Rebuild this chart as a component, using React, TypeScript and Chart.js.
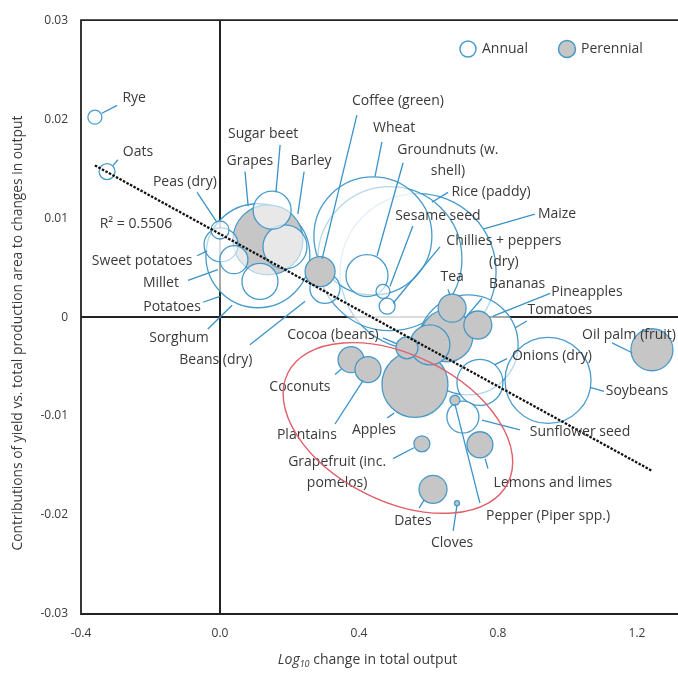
import React, { useEffect, useRef } from 'react';
import { Chart, registerables } from 'chart.js';

Chart.register(...registerables);

// ---------- data ----------
const crops = [
  'Rye', 'Oats', 'Peas (dry)', 'Sweet potatoes', 'Millet', 'Potatoes', 'Sorghum', 'Beans (dry)',
  'Sugar beet', 'Grapes', 'Barley', 'Coffee (green)', 'Wheat', 'Groundnuts (w. shell)', 'Sesame seed',
  'Chillies + peppers (dry)', 'Rice (paddy)', 'Maize', 'Tea', 'Bananas', 'Other perennial', 'Pineapples',
  'Tomatoes', 'Onions (dry)', 'Soybeans', 'Oil palm (fruit)', 'Sunflower seed', 'Pepper (Piper spp.)',
  'Lemons and limes', 'Cloves', 'Dates', 'Grapefruit (inc. pomelos)', 'Apples', 'Coconuts', 'Plantains',
  'Cocoa (beans)',
];

// Log10 change in total output
const logChange = [
  -0.360, -0.325, 0.000, 0.003, 0.040, 0.109, 0.115, 0.302, 0.150, 0.138, 0.187, 0.288, 0.440, 0.423,
  0.469, 0.481, 0.489, 0.570, 0.668, 0.653, 0.604, 0.742, 0.714, 0.748, 0.944, 1.243, 0.699, 0.676,
  0.748, 0.682, 0.613, 0.581, 0.561, 0.377, 0.426, 0.538,
];

// Contribution of yield vs. total production area
const contribution = [
  0.0202, 0.0147, 0.0088, 0.0073, 0.0058, 0.0062, 0.0036, 0.0029, 0.0108, 0.0078, 0.0071, 0.0046,
  0.0082, 0.0042, 0.0026, 0.0011, 0.0059, 0.0046, 0.0009, -0.0019, -0.0028, -0.0008, -0.0028, -0.0066,
  -0.0064, -0.0033, -0.0101, -0.0084, -0.0129, -0.0188, -0.0174, -0.0128, -0.0068, -0.0043, -0.0053,
  -0.0031,
];

// bubble size (production)
const bubbleSize = [
  7, 8, 9, 17, 14, 52, 18, 15, 19, 35, 22, 15, 59, 21, 7, 8, 72, 78, 14, 26, 20, 14, 50, 23, 43, 21,
  16, 5, 13, 2.5, 14, 8, 33, 13, 13, 11,
];

const perennial = [
  false, false, false, false, false, false, false, false, false, true, false, true, false, false, false,
  false, false, false, true, true, true, true, false, false, false, true, false, true, true, true, true,
  true, true, true, true, true,
];

// label texts (lines)
const labelLines: string[][] = [
  ['Rye'], ['Oats'], ['Peas (dry)'], ['Sweet potatoes'], ['Millet'], ['Potatoes'], ['Sorghum'],
  ['Beans (dry)'], ['Sugar beet'], ['Grapes'], ['Barley'], ['Coffee (green)'], ['Wheat'],
  ['Groundnuts (w.', 'shell)'], ['Sesame seed'], ['Chillies + peppers', '(dry)'], ['Rice (paddy)'],
  ['Maize'], ['Tea'], ['Bananas'], [], ['Pineapples'], ['Tomatoes'], ['Onions (dry)'], ['Soybeans'],
  ['Oil palm (fruit)'], ['Sunflower seed'], ['Pepper (Piper spp.)'], ['Lemons and limes'], ['Cloves'],
  ['Dates'], ['Grapefruit (inc.', 'pomelos)'], ['Apples'], ['Coconuts'], ['Plantains'], ['Cocoa (beans)'],
];

// label anchor (centre of first line), in data units
const labelX = [
  -0.247, -0.236, -0.101, -0.224, -0.170, -0.138, -0.118, -0.012, 0.124, 0.086, 0.262, 0.512, 0.501,
  0.656, 0.627, 0.817, 0.780, 0.970, 0.668, 0.855, null, 1.056, 0.978, 0.955, 1.200, 1.177, 1.036,
  0.944, 0.958, 0.668, 0.555, 0.337, 0.443, 0.230, 0.250, 0.325,
];
const labelY = [
  0.0221, 0.0167, 0.0137, 0.0057, 0.0034, 0.0010, -0.0021, -0.0043, 0.0185, 0.0158, 0.0158, 0.0218,
  0.0191, 0.0169, 0.0102, 0.0077, 0.0126, 0.0104, 0.0040, 0.0033, null, 0.0025, 0.0007, -0.0039,
  -0.0075, -0.0018, -0.0116, -0.0201, -0.0168, -0.0228, -0.0206, -0.0146, -0.0114, -0.0071, -0.0119,
  -0.0018,
];

// leader lines (start near label, end at bubble), in data units
const leadX1 = [
  -0.296, -0.294, -0.066, -0.066, -0.092, -0.049, -0.035, 0.086, 0.173, 0.072, 0.242, 0.394, 0.466,
  0.527, 0.555, 0.633, 0.656, 0.906, 0.656, 0.754, null, 0.950, 0.883, 0.826, 1.105, 1.128, 0.863,
  0.748, 0.771, 0.671, 0.573, 0.498, 0.481, 0.331, 0.331, 0.469,
];
const leadY1 = [
  0.0214, 0.0159, 0.0126, 0.0062, 0.0037, 0.0015, -0.0012, -0.0028, 0.0174, 0.0147, 0.0147, 0.0204,
  0.0177, 0.0156, 0.0092, 0.0071, 0.0126, 0.0104, 0.0028, 0.0019, null, 0.0024, -0.0004, -0.0042,
  -0.0075, -0.0026, -0.0114, -0.0188, -0.0153, -0.0216, -0.0193, -0.0143, -0.0102, -0.0058, -0.0108,
  -0.0021,
];
const leadX2 = [
  -0.340, -0.308, -0.009, -0.037, -0.006, 0.000, 0.035, 0.245, 0.161, 0.081, 0.224, 0.294, 0.446,
  0.452, 0.489, 0.498, 0.610, 0.757, 0.662, 0.705, null, 0.786, 0.849, 0.791, 1.065, 1.186, 0.754,
  0.676, 0.763, 0.682, 0.587, 0.558, 0.501, 0.351, 0.412, 0.509,
];
const leadY2 = [
  0.0206, 0.0153, 0.0096, 0.0067, 0.0048, 0.0021, 0.0012, 0.0016, 0.0126, 0.0112, 0.0104, 0.0059,
  0.0142, 0.0062, 0.0031, 0.0014, 0.0116, 0.0089, 0.0022, -0.0001, null, 0.0001, -0.0011, -0.0048,
  -0.0071, -0.0036, -0.0104, -0.0088, -0.0143, -0.0190, -0.0185, -0.0132, -0.0097, -0.0052, -0.0064,
  -0.0027,
];

// linear trend
const trendSlope = -0.01925;
const trendIntercept = 0.0084;
const rSquaredText = 'R² = 0.5506';
const rSquaredPos = [-0.242, 0.0094];

// highlighted group (red ellipse) centre in data units
const ellipseCentre = [0.512, -0.0112];

const xTicks = [-0.4, 0.0, 0.4, 0.8, 1.2];
const yTicks = [-0.03, -0.02, -0.01, 0, 0.01, 0.02, 0.03];
const xRange = [-0.4, 1.318];
const yRange = [-0.03, 0.03];

const legendItems = ['Annual', 'Perennial'];

// ---------- styles ----------
const FONT = '"Open Sans", "DejaVu Sans", sans-serif';
const TEXT = '#3a3a3a';
const BLUE = 'rgba(62,150,200,0.95)';
const LEADER = '#3a93c8';
const GREY = '#c6c6c6';
const ANNUAL_FILL = 'rgba(255,255,255,0.6)';

const overlay = {
  id: 'overlay',
  beforeDatasetsDraw(chart: any) {
    const { ctx, chartArea, scales } = chart;
    const { left, right, top, bottom } = chartArea;
    ctx.save();
    ctx.strokeStyle = '#222';
    ctx.lineWidth = 1.8;
    ctx.beginPath();
    ctx.moveTo(right + 2, top);
    ctx.lineTo(left, top);
    ctx.lineTo(left, bottom);
    ctx.lineTo(right + 2, bottom);
    ctx.stroke();
    const x0 = scales.x.getPixelForValue(0);
    const y0 = scales.y.getPixelForValue(0);
    ctx.lineWidth = 2;
    ctx.beginPath();
    ctx.moveTo(x0, top);
    ctx.lineTo(x0, bottom);
    ctx.moveTo(left, y0);
    ctx.lineTo(right + 2, y0);
    ctx.stroke();
    ctx.restore();
  },
  afterDatasetsDraw(chart: any) {
    const { ctx, scales } = chart;
    const px = (v: number) => scales.x.getPixelForValue(v);
    const py = (v: number) => scales.y.getPixelForValue(v);
    ctx.save();
    // leader lines
    ctx.strokeStyle = LEADER;
    ctx.lineWidth = 1.3;
    for (let i = 0; i < crops.length; i++) {
      if (leadX1[i] == null) continue;
      ctx.beginPath();
      ctx.moveTo(px(leadX1[i] as number), py(leadY1[i] as number));
      ctx.lineTo(px(leadX2[i] as number), py(leadY2[i] as number));
      ctx.stroke();
    }
    // labels
    ctx.fillStyle = TEXT;
    ctx.font = `14px ${FONT}`;
    ctx.textAlign = 'center';
    ctx.textBaseline = 'middle';
    for (let i = 0; i < crops.length; i++) {
      if (labelX[i] == null) continue;
      const lx = px(labelX[i] as number);
      const ly = py(labelY[i] as number);
      labelLines[i].forEach((t, k) => ctx.fillText(t, lx, ly + k * 21.5));
    }
    // R squared
    ctx.fillText(rSquaredText, px(rSquaredPos[0]), py(rSquaredPos[1]));
    // red ellipse
    ctx.strokeStyle = '#e0606a';
    ctx.lineWidth = 1.4;
    ctx.beginPath();
    ctx.ellipse(px(ellipseCentre[0]), py(ellipseCentre[1]), 123, 73, (26.5 * Math.PI) / 180, 0, Math.PI * 2);
    ctx.stroke();
    ctx.restore();
  },
  afterDraw(chart: any) {
    const { ctx, chartArea } = chart;
    ctx.save();
    // legend
    ctx.lineWidth = 1.5;
    ctx.strokeStyle = BLUE;
    ctx.fillStyle = '#fff';
    ctx.beginPath();
    ctx.arc(468, 49, 8, 0, Math.PI * 2);
    ctx.fill();
    ctx.stroke();
    ctx.fillStyle = GREY;
    ctx.beginPath();
    ctx.arc(567, 49, 8.5, 0, Math.PI * 2);
    ctx.fill();
    ctx.stroke();
    ctx.fillStyle = TEXT;
    ctx.font = `14px ${FONT}`;
    ctx.textAlign = 'left';
    ctx.textBaseline = 'middle';
    ctx.fillText(legendItems[0], 482, 49);
    ctx.fillText(legendItems[1], 581, 49);

    // x title: Log10 change in total output
    const cx = (chartArea.left + chartArea.right) / 2 - 12;
    const ty = 660;
    ctx.font = `italic 14px ${FONT}`;
    const wLog = ctx.measureText('Log').width;
    ctx.font = `italic 9px ${FONT}`;
    const wSub = ctx.measureText('10').width;
    ctx.font = `14px ${FONT}`;
    const rest = ' change in total output';
    const wRest = ctx.measureText(rest).width;
    let sx = cx - (wLog + wSub + wRest) / 2;
    ctx.font = `italic 14px ${FONT}`;
    ctx.fillText('Log', sx, ty);
    sx += wLog;
    ctx.font = `italic 9px ${FONT}`;
    ctx.fillText('10', sx, ty + 4);
    sx += wSub;
    ctx.font = `14px ${FONT}`;
    ctx.fillText(rest, sx, ty);

    // y title
    ctx.translate(18, (chartArea.top + chartArea.bottom) / 2 + 16);
    ctx.rotate(-Math.PI / 2);
    ctx.textAlign = 'center';
    ctx.font = `13.8px ${FONT}`;
    ctx.fillText('Contributions of yield vs. total production area to changes in output', 0, 0);
    ctx.restore();
  },
};

export default function App() {
  const ref = useRef<HTMLCanvasElement | null>(null);

  useEffect(() => {
    if (!ref.current) return;
    const order = crops.map((_, i) => i).sort((a, b) => bubbleSize[b] - bubbleSize[a]);
    const xs = logChange;
    const xMin = Math.min(...xs);
    const xMax = Math.max(...xs);
    const chart = new Chart(ref.current, {
      type: 'bubble',
      data: {
        datasets: [
          {
            type: 'line',
            label: 'Trend',
            data: [
              { x: xMin, y: trendIntercept + trendSlope * xMin },
              { x: xMax, y: trendIntercept + trendSlope * xMax },
            ],
            borderColor: '#111',
            borderWidth: 2.3,
            borderDash: [2.5, 1.5],
            pointRadius: 0,
            fill: false,
            order: 0,
          } as any,
          {
            label: 'Crops',
            data: order.map((i) => ({ x: logChange[i], y: contribution[i], r: bubbleSize[i] })),
            backgroundColor: order.map((i) => (perennial[i] ? GREY : ANNUAL_FILL)),
            borderColor: BLUE,
            borderWidth: 1.3,
            hoverRadius: 0,
            order: 1,
          } as any,
        ],
      },
      options: {
        responsive: false,
        animation: false,
        devicePixelRatio: 1,
        events: [],
        layout: { autoPadding: false, padding: { top: 14, left: 0, right: 0, bottom: 0 } },
        plugins: { legend: { display: false }, tooltip: { enabled: false } },
        scales: {
          x: {
            type: 'linear',
            min: xRange[0],
            max: xRange[1],
            grid: { display: false, drawTicks: false },
            border: { display: false },
            afterBuildTicks: (s: any) => {
              s.ticks = xTicks.map((v) => ({ value: v }));
            },
            afterFit: (s: any) => {
              s.height = 61;
            },
            ticks: {
              padding: 12,
              maxRotation: 0,
              color: TEXT,
              font: { family: FONT, size: 12 },
              callback: (v: any) => Number(v).toFixed(1),
            },
          },
          y: {
            type: 'linear',
            min: yRange[0],
            max: yRange[1],
            grid: { display: false, drawTicks: false },
            border: { display: false },
            afterBuildTicks: (s: any) => {
              s.ticks = yTicks.map((v) => ({ value: v }));
            },
            afterFit: (s: any) => {
              s.width = 81;
            },
            ticks: {
              padding: 13,
              color: TEXT,
              font: { family: FONT, size: 12 },
              callback: (v: any) => (Math.abs(Number(v)) < 1e-9 ? '0' : Number(v).toFixed(2)),
            },
          },
        },
      },
      plugins: [overlay],
    } as any);
    return () => chart.destroy();
  }, []);

  return (
    <div style={{ position: 'fixed', left: 0, top: 0, width: 678, height: 675, background: '#fff' }}>
      <canvas ref={ref} width={678} height={675} style={{ width: 678, height: 675 }} />
    </div>
  );
}
